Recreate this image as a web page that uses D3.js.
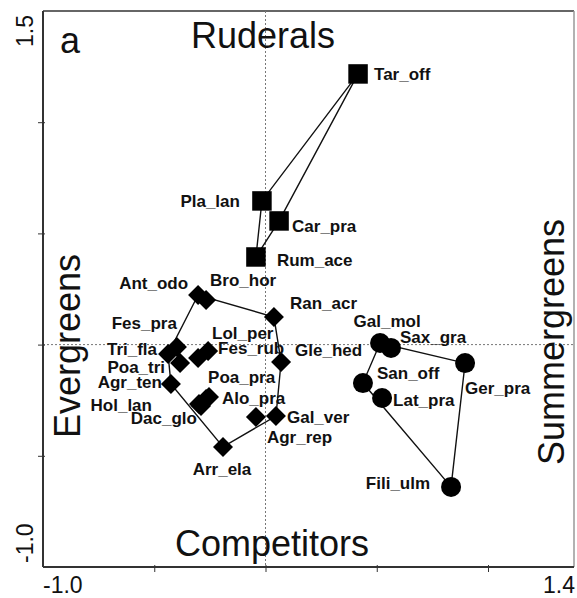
<!DOCTYPE html>
<html lang="en">
<head>
<meta charset="utf-8">
<title>Plant strategies ordination</title>
<script src="https://d3js.org/d3.v7.min.js"></script>
<style>
  body { margin: 0; background: #fff; }
  svg { display: block; font-family: "Liberation Sans", Arial, sans-serif; }
  .lab { font-size: 17px; font-weight: bold; fill: #111; }
  .big { font-size: 36px; fill: #111; }
  .tick-lab { font-size: 23px; fill: #111; }
</style>
</head>
<body>
<div id="chart"></div>
<script>
// ruderals (squares)
var rudNames = ["Tar_off", "Pla_lan", "Car_pra", "Rum_ace"];
var rudX = [0.416, -0.016, 0.061, -0.043];
var rudY = [1.217, 0.646, 0.556, 0.394];

// evergreens / competitors (diamonds)
var evgNames = ["Ant_odo", "Bro_hor", "Ran_acr", "Fes_pra", "Tri_fla", "Poa_tri", "Agr_ten",
  "Lol_per", "Fes_rub", "Gle_hed", "Poa_pra", "Alo_pra", "Hol_lan", "Dac_glo",
  "Gal_ver", "Agr_rep", "Arr_ela"];
var evgX = [-0.303, -0.267, 0.038, -0.398, -0.438, -0.384, -0.425,
  -0.303, -0.258, 0.070, -0.267, -0.254, -0.299, -0.290,
  0.047, -0.043, -0.191];
var evgY = [0.223, 0.201, 0.124, -0.011, -0.042, -0.083, -0.177,
  -0.060, -0.029, -0.078, -0.245, -0.236, -0.267, -0.276,
  -0.321, -0.326, -0.460];

// summergreens (circles)
var sumNames = ["Gal_mol", "Sax_gra", "Ger_pra", "San_off", "Lat_pra", "Fili_ulm"];
var sumX = [0.515, 0.564, 0.897, 0.438, 0.524, 0.834];
var sumY = [0.007, -0.015, -0.083, -0.173, -0.240, -0.640];

var xTicks = [-0.5, 0, 0.5, 1.0];
var yTicks = [1.0, 0.5, 0, -0.5];

// label placement relative to the marker: [dx, dy, anchor]
var labelPos = {
  Tar_off: [16, 6, "start"], Pla_lan: [-22, 6, "end"], Car_pra: [13, 11, "start"], Rum_ace: [21, 9, "start"],
  Ant_odo: [-10, -6, "end"], Bro_hor: [4, -14, "start"], Ran_acr: [16, -8, "start"],
  Fes_pra: [0, -18, "end"], Tri_fla: [-11, 1, "end"], Poa_tri: [-15, 10, "end"], Agr_ten: [-9, 4, "end"],
  Lol_per: [14, -19, "start"], Fes_rub: [10, 3, "start"], Gle_hed: [14, -6, "start"],
  Poa_pra: [2, -16, "start"], Alo_pra: [13, 7, "start"], Hol_lan: [-47, 7, "end"], Dac_glo: [-4, 18, "end"],
  Gal_ver: [11, 7, "start"], Agr_rep: [11, 26, "start"], Arr_ela: [-1, 28, "middle"],
  Gal_mol: [7, -16, "middle"], Sax_gra: [9, -5, "start"], Ger_pra: [0, 31, "start"],
  San_off: [14, -4, "start"], Lat_pra: [11, 8, "start"], Fili_ulm: [-21, 2, "end"]
};

var W = 577, H = 598;
var x = d3.scaleLinear().domain([-1.0, 1.4]).range([43, 577]);
var y = d3.scaleLinear().domain([-1.0, 1.5]).range([567, 11]);

var svg = d3.select("#chart").append("svg")
  .attr("width", W).attr("height", H);

function group(names, xs, ys) {
  return names.map(function(n, i) { return {name: n, px: x(xs[i]), py: y(ys[i])}; });
}
var rud = group(rudNames, rudX, rudY);
var evg = group(evgNames, evgX, evgY);
var sum = group(sumNames, sumX, sumY);

// frame (top and right)
svg.append("line").attr("x1", 43).attr("x2", 574).attr("y1", 11).attr("y2", 11)
  .attr("stroke", "#666").attr("stroke-width", 2);
svg.append("line").attr("x1", 574).attr("x2", 574).attr("y1", 11).attr("y2", 567)
  .attr("stroke", "#999").attr("stroke-width", 1.5);

// zero lines
svg.append("line").attr("x1", x(0)).attr("x2", x(0)).attr("y1", 11).attr("y2", 567)
  .attr("stroke", "#777").attr("stroke-width", 1).attr("stroke-dasharray", "2,2");
svg.append("line").attr("x1", 43).attr("x2", 574).attr("y1", y(0)).attr("y2", y(0))
  .attr("stroke", "#777").attr("stroke-width", 1).attr("stroke-dasharray", "2,2");

// axes
var xAxis = svg.append("g").attr("transform", "translate(0,567)")
  .call(d3.axisBottom(x).tickValues(xTicks).tickSize(5).tickFormat(""));
var yAxis = svg.append("g").attr("transform", "translate(43,0)")
  .call(d3.axisLeft(y).tickValues(yTicks).tickSize(5).tickFormat(""));
xAxis.select(".domain").attr("d", "M43,0H574").attr("stroke", "#333").attr("stroke-width", 2);
yAxis.select(".domain").attr("d", "M0,11V567").attr("stroke", "#333").attr("stroke-width", 2);
xAxis.selectAll(".tick line").attr("y1", -2).attr("y2", 5).attr("stroke", "#333");
yAxis.selectAll(".tick line").attr("x1", -5).attr("x2", 2).attr("stroke", "#333");

// end tick labels
svg.append("text").attr("class", "tick-lab").attr("x", 43).attr("y", 593).text("-1.0");
svg.append("text").attr("class", "tick-lab").attr("x", 575).attr("y", 593)
  .attr("text-anchor", "end").text("1.4");
svg.append("text").attr("class", "tick-lab").attr("transform", "translate(33,15) rotate(-90)")
  .attr("text-anchor", "end").text("1.5");
svg.append("text").attr("class", "tick-lab").attr("transform", "translate(33,563) rotate(-90)")
  .attr("text-anchor", "start").text("-1.0");

// hulls
[rud, evg, sum].forEach(function(g) {
  var hull = d3.polygonHull(g.map(function(d) { return [d.px, d.py]; }));
  svg.append("path").attr("d", "M" + hull.join("L") + "Z")
    .attr("fill", "none").attr("stroke", "#111").attr("stroke-width", 1.4);
});

// markers
var sq = d3.symbol().type(d3.symbolSquare).size(380);
svg.selectAll(".sq").data(rud).enter().append("path")
  .attr("d", sq).attr("transform", function(d) { return "translate(" + d.px + "," + d.py + ")"; })
  .attr("fill", "#000");

var dm = d3.symbol().type(d3.symbolSquare).size(200);
svg.selectAll(".dm").data(evg).enter().append("path")
  .attr("d", dm).attr("transform", function(d) { return "translate(" + d.px + "," + d.py + ") rotate(45)"; })
  .attr("fill", "#000");

svg.selectAll(".ci").data(sum).enter().append("circle")
  .attr("cx", function(d) { return d.px; }).attr("cy", function(d) { return d.py; })
  .attr("r", 10).attr("fill", "#000");

// point labels
svg.selectAll(".lab").data(rud.concat(evg, sum)).enter().append("text")
  .attr("class", "lab")
  .attr("x", function(d) { return d.px + labelPos[d.name][0]; })
  .attr("y", function(d) { return d.py + labelPos[d.name][1]; })
  .attr("text-anchor", function(d) { return labelPos[d.name][2]; })
  .text(function(d) { return d.name; });

// strategy labels
svg.append("text").attr("class", "big").attr("x", 60).attr("y", 53).text("a");
svg.append("text").attr("class", "big").attr("x", 263).attr("y", 48)
  .attr("text-anchor", "middle").text("Ruderals");
svg.append("text").attr("class", "big").attr("x", 272).attr("y", 556)
  .attr("text-anchor", "middle").text("Competitors");
svg.append("text").attr("class", "big").attr("transform", "translate(80,346) rotate(-90)")
  .attr("text-anchor", "middle").text("Evergreens");
svg.append("text").attr("class", "big").attr("transform", "translate(564,342) rotate(-90)")
  .attr("text-anchor", "middle").text("Summergreens");
</script>
</body>
</html>
